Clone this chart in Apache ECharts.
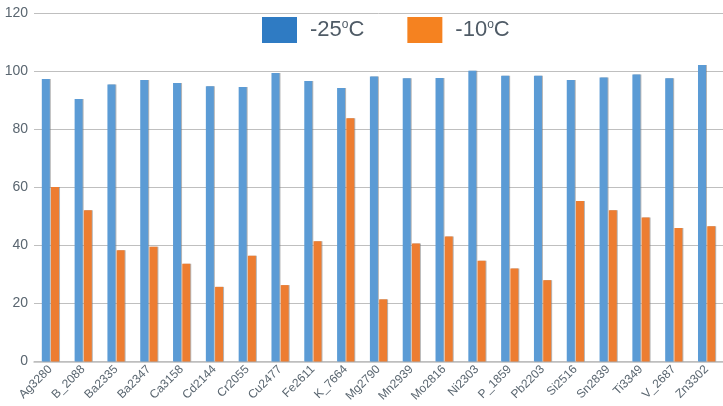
<!DOCTYPE html>
<html>
<head>
<meta charset="utf-8">
<script src="https://cdn.jsdelivr.net/npm/echarts@6/dist/echarts.min.js"></script>
<style>html,body{margin:0;padding:0;background:#fff}#c{width:723px;height:406px}</style>
</head>
<body>
<div id="c"></div>
<script>
const categories = ["Ag3280","B_2088","Ba2335","Ba2347","Ca3158","Cd2144","Cr2055","Cu2477","Fe2611","K_7664","Mg2790","Mn2939","Mo2816","Ni2303","P_1859","Pb2203","Si2516","Sn2839","Ti3349","V_2687","Zn3302"];
const seriesNames = ["-25oC", "-10oC"];
const valuesMinus25 = [97.3, 90.4, 95.4, 96.9, 95.9, 94.8, 94.5, 99.3, 96.6, 94.2, 98.1, 97.5, 97.6, 100.1, 98.4, 98.4, 96.9, 97.8, 98.8, 97.5, 102.1];
const valuesMinus10 = [60.1, 52.1, 38.3, 39.5, 33.7, 25.7, 36.4, 26.3, 41.4, 83.8, 21.4, 40.6, 43.0, 34.7, 32.0, 28.0, 55.3, 52.1, 49.6, 46.0, 46.6];
const yTicks = { min: 0, max: 120, interval: 20 };

const chart = echarts.init(document.getElementById('c'));
const barShadow = { shadowColor: 'rgba(120,120,120,0.55)', shadowOffsetX: 1, shadowOffsetY: 0, shadowBlur: 0 };
chart.setOption({
  animation: false,
  grid: { left: 34, right: -4, top: 13, bottom: 44.5 },
  legend: {
    left: 257, top: 12, icon: 'rect',
    itemWidth: 35, itemHeight: 26, itemGap: 43,
    data: [
      { name: seriesNames[0], itemStyle: { color: '#2F7BC3' } },
      { name: seriesNames[1], itemStyle: { color: '#F58220' } }
    ],
    formatter: function (n) { const p = n.split('o'); return p[0] + '{sup|o}' + p[1]; },
    textStyle: {
      fontFamily: 'Liberation Sans', fontSize: 22, color: '#4F5B66', padding: [0, 0, 0, 8],
      rich: { sup: { fontFamily: 'Liberation Sans', fontSize: 12, color: '#4F5B66', verticalAlign: 'top', padding: [0, 0, 10, 0] } }
    }
  },
  xAxis: {
    type: 'category', data: categories,
    axisLine: { lineStyle: { color: '#BFBFBF', width: 1.5 } },
    axisTick: { show: false },
    axisLabel: { rotate: 45, interval: 0, margin: 6, fontFamily: 'Liberation Sans', fontSize: 12, color: '#5A6670' }
  },
  yAxis: {
    type: 'value', min: yTicks.min, max: yTicks.max, interval: yTicks.interval,
    axisLine: { show: false }, axisTick: { show: false },
    splitLine: { lineStyle: { color: '#BFBFBF', width: 1 } },
    axisLabel: { margin: 6, fontFamily: 'Liberation Sans', fontSize: 14, color: '#5A6670' }
  },
  series: [
    { name: seriesNames[0], type: 'bar', data: valuesMinus25, barWidth: 8, barGap: '15%',
      itemStyle: Object.assign({ color: '#5B9BD5' }, barShadow) },
    { name: seriesNames[1], type: 'bar', data: valuesMinus10, barWidth: 8, barGap: '15%',
      itemStyle: Object.assign({ color: '#ED7D31' }, barShadow) }
  ]
});
</script>
</body>
</html>
